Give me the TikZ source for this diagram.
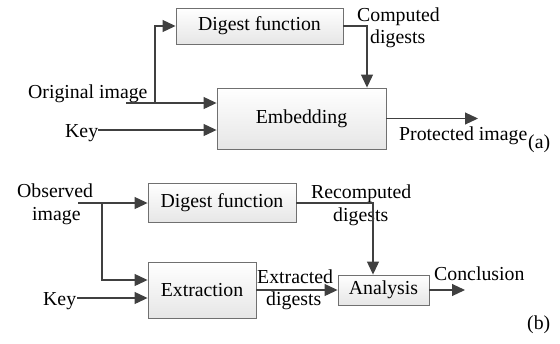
\documentclass[tikz,border=0pt]{standalone}
\usepackage{fontspec}
\setmainfont{Liberation Serif}
\usetikzlibrary{arrows.meta}

\definecolor{edge}{HTML}{707070}
\definecolor{wire}{HTML}{404040}
\definecolor{shadelow}{HTML}{E6E6E6}

\begin{document}
\begin{tikzpicture}[x=1pt,y=-1pt,
  font=\fontsize{19.8}{23}\selectfont,
  blk/.style={draw=edge, line width=0.9pt, top color=white, bottom color=shadelow,
    inner sep=0pt, text=black},
  arr/.style={draw=wire, line width=1.1pt, -{Triangle[length=13pt,width=12pt]}},
  ln/.style={draw=wire, line width=1.1pt},
  lbl/.style={inner sep=0pt, anchor=base west}]
\useasboundingbox (0,0) rectangle (560,343);

% ---------- (a) embedding ----------
\node[blk, minimum width=167pt, minimum height=36pt] (diga) at (259.5,26) {Digest function};
\node[blk, minimum width=169pt, minimum height=61pt] (emb) at (301.5,118.5) {Embedding};

\node[lbl] (orig) at (28,98) {Original image};
\node[lbl] (keya) at (65,137) {Key};
\node[lbl] (comp) at (357,21) {Computed};
\node[lbl] (compd) at (370,43) {digests};
\node[lbl] (prot) at (399,140) {Protected image};
\node[lbl] (taga) at (528,148) {(a)};

\coordinate (origin) at (126,103);
\coordinate (split) at (155,103);
\coordinate (keyin) at (98,130);
\coordinate (bend) at (367,26);
\coordinate (protout) at (478,118.5);

\draw[arr] (origin) -- (emb.west |- origin);
\draw[arr] (split) |- (diga.west);
\draw[arr] (keyin) -- (emb.west |- keyin);
\draw[arr] (diga.east) -- (bend) -- (bend |- emb.north);
\draw[arr] (emb.east) -- (protout);

% ---------- (b) verification ----------
\node[blk, minimum width=148pt, minimum height=39pt] (digb) at (222,203) {Digest function};
\node[blk, minimum width=108pt, minimum height=56pt] (ext) at (202,290) {Extraction};
\node[blk, minimum width=91pt, minimum height=30pt] (ana) at (383.5,290) {Analysis};

\node[lbl] (obs) at (17,197) {Observed};
\node[lbl] (obsi) at (32,220) {image};
\node[lbl] (keyb) at (43,305) {Key};
\node[lbl] (recomp) at (311,198) {Recomputed};
\node[lbl] (recompd) at (333,221) {digests};
\node[lbl] (extr) at (257,283) {Extracted};
\node[lbl] (extrd) at (266,305) {digests};
\node[lbl] (concl) at (434,280) {Conclusion};
\node[lbl] (tagb) at (527,329) {(b)};

\coordinate (obsin) at (78,203);
\coordinate (splitb) at (102,203);
\coordinate (upper) at (102,280);
\coordinate (keybin) at (77,298);
\coordinate (bendb) at (373,203);
\coordinate (conclout) at (465,290);

\draw[arr] (obsin) -- (digb.west |- obsin);
\draw[arr] (splitb) -- (upper) -- (ext.west |- upper);
\draw[arr] (keybin) -- (ext.west |- keybin);
\draw[arr] (digb.east) -- (bendb) -- (bendb |- ana.north);
\draw[arr] (ext.east) -- (ana.west);
\draw[arr] (ana.east) -- (conclout);
\end{tikzpicture}
\end{document}
